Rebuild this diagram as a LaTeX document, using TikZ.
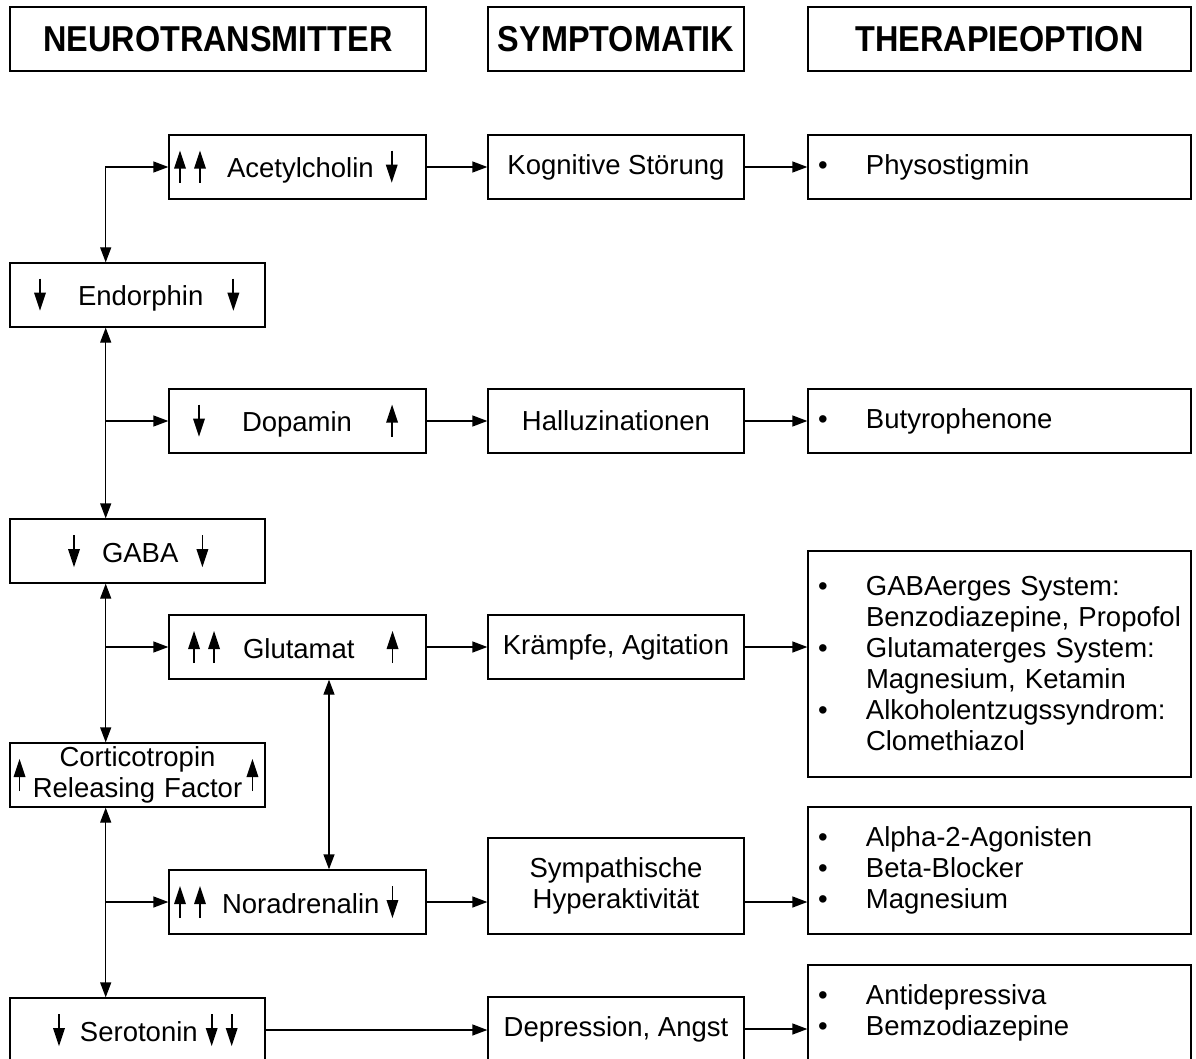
\documentclass[tikz,border=0pt]{standalone}
\usepackage{fontspec}
\setmainfont{Liberation Sans}
\newfontfamily\kopffont{Liberation Sans}[FakeStretch=0.9]
\usetikzlibrary{arrows.meta, positioning}

\newcommand{\pfeilhoch}{\tikz[baseline=0pt]{\useasboundingbox (-10pt,-5pt) rectangle (10pt,27pt); \draw[line width=1.8pt] (0pt,-5pt) -- (0pt,12pt); \fill (-6pt,9pt) -- (6pt,9pt) -- (0pt,27pt) -- cycle;}}
\newcommand{\pfeilrunter}{\tikz[baseline=0pt]{\useasboundingbox (-10pt,-5pt) rectangle (10pt,27pt); \draw[line width=1.8pt] (0pt,27pt) -- (0pt,10pt); \fill (-6pt,13pt) -- (6pt,13pt) -- (0pt,-5pt) -- cycle;}}
\newcommand{\punkt}{\makebox[58pt][l]{\hspace{10pt}\textbullet}}
\newcommand{\einzug}{\hspace*{58pt}}

\begin{document}
\begin{tikzpicture}[x=1pt, y=-1pt, font=\fontsize{27.5}{31}\selectfont]
	\tikzstyle{Box} = [rectangle, draw=black, line width=1.3pt, minimum height=64pt, inner sep=0pt, text centered]
	\tikzstyle{Head} = [Box, font=\kopffont\bfseries\fontsize{36}{40}\selectfont]
	\tikzstyle{Links} = [Box, text width=255pt, align=left]
	\tikzstyle{Mitte} = [Box, text width=257pt, align=left]
	\tikzstyle{Sym} = [Box, minimum width=256pt, align=center]
	\tikzstyle{Ther} = [Box, text width=383pt, align=left]
	\tikzstyle{arrow} = [line width=1.3pt, ->, >={Triangle[length=15pt,width=11pt]}]

	\path[use as bounding box, clip] (0,0) rectangle (1196,1059);

	% Kopfzeile
	\node (kopfNT) [Head, minimum width=416pt] at (218,39) {NEUROTRANSMITTER};
	\node (kopfSY) [Head, minimum width=256pt] at (616,39) {SYMPTOMATIK};
	\node (kopfTH) [Head, minimum width=383pt] at (999.5,39) {THERAPIEOPTION};

	% Neurotransmitter
	\node (ach) [Mitte] at (297.5,167) {\hspace*{1pt}\pfeilhoch\pfeilhoch\hspace{17pt}Acetylcholin\hspace{8pt}\pfeilrunter};
	\node (endo) [Links] at (137.5,295) {\hspace*{20pt}\pfeilrunter\hspace{28pt}Endorphin\hspace{20pt}\pfeilrunter};
	\node (dopa) [Mitte] at (297.5,421) {\hspace*{20pt}\pfeilrunter\hspace{33pt}Dopamin\hspace{30pt}\pfeilhoch};
	\node (gaba) [Links] at (137.5,551) {\hspace*{54pt}\pfeilrunter\hspace{18pt}GABA\hspace{14pt}\pfeilrunter};
	\node (glut) [Mitte] at (297.5,647) {\hspace*{15pt}\pfeilhoch\pfeilhoch\hspace{19pt}Glutamat\hspace{28pt}\pfeilhoch};
	\node (crf) [Links, align=center,
		label={[name=crfL, anchor=west, inner sep=0pt]west:\pfeilhoch},
		label={[name=crfR, anchor=east, inner sep=0pt, xshift=-3pt]east:\pfeilhoch}] at (137.5,775) {Corticotropin\\Releasing Factor};
	\node (nora) [Mitte] at (297.5,902) {\hspace*{1pt}\pfeilhoch\pfeilhoch\hspace{12pt}Noradrenalin\hspace{3pt}\pfeilrunter};
	\node (sero) [Links] at (137.5,1030) {\hspace*{39pt}\pfeilrunter\hspace{11pt}Serotonin\hspace{4pt}\pfeilrunter\pfeilrunter};

	% Symptomatik
	\node (kog) [Sym] at (616,167) {Kognitive Störung};
	\node (hall) [Sym] at (616,421) {Halluzinationen};
	\node (kra) [Sym] at (616,647) {Krämpfe, Agitation};
	\node (sym) [Sym, minimum height=96pt] at (616,886) {Sympathische\\Hyperaktivität};
	\node (dep) [Sym] at (616,1029) {Depression, Angst};

	% Therapieoption
	\node (phys) [Ther] at (999.5,167) {\punkt Physostigmin};
	\node (buty) [Ther] at (999.5,421) {\punkt Butyrophenone};
	\node (gabath) [Ther, minimum height=226pt] at (999.5,664) {\punkt GABAerges System:\\ \einzug Benzodiazepine, Propofol\\ \punkt Glutamaterges System:\\ \einzug Magnesium, Ketamin\\ \punkt Alkoholentzugssyndrom:\\ \einzug Clomethiazol};
	\node (alpha) [Ther, minimum height=127pt] at (999.5,870.5) {\punkt Alpha-2-Agonisten\\ \punkt Beta-Blocker\\ \punkt Magnesium};
	\node (anti) [Ther, minimum height=96pt] at (999.5,1013) {\punkt Antidepressiva\\ \punkt Bemzodiazepine};

	% linke Verbindungen
	\coordinate (knick) at (105.7,167);
	\draw[arrow, <->] (ach.west) -- (knick) -- (endo.north -| knick);
	\draw[arrow, <->] (endo.south -| knick) -- (gaba.north -| knick);
	\draw[arrow] (dopa.west -| knick) -- (dopa.west);
	\draw[arrow, <->] (gaba.south -| knick) -- (crf.north -| knick);
	\draw[arrow] (glut.west -| knick) -- (glut.west);
	\draw[arrow, <->] (crf.south -| knick) -- (sero.north -| knick);
	\draw[arrow] (nora.west -| knick) -- (nora.west);
	\draw[arrow, <->] ([xshift=31.5pt]glut.south) -- ([xshift=31.5pt]nora.north);

	% nach rechts
	\draw[arrow] (ach) -- (kog);
	\draw[arrow] (kog) -- (phys);
	\draw[arrow] (dopa) -- (hall);
	\draw[arrow] (hall) -- (buty);
	\draw[arrow] (glut) -- (kra);
	\draw[arrow] (kra.east) -- (kra.east -| gabath.west);
	\draw[arrow] (nora.east) -- (nora.east -| sym.west);
	\draw[arrow] (nora.east -| sym.east) -- (nora.east -| alpha.west);
	\draw[arrow] (sero.east) -- (sero.east -| dep.west);
	\draw[arrow] (dep.east) -- (dep.east -| anti.west);
\end{tikzpicture}
\end{document}
